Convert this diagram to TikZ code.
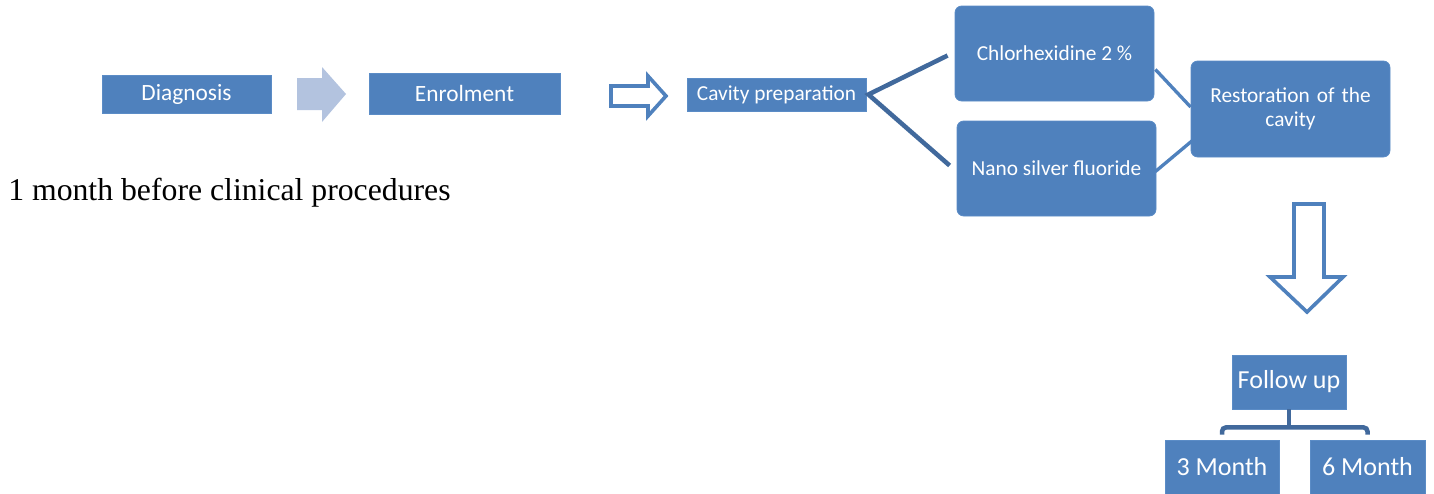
\documentclass[tikz,border=0pt]{standalone}
\usepackage{fontspec}
\setmainfont{Liberation Serif}
\newfontfamily\boxfont{Carlito}
\usetikzlibrary{calc}
\definecolor{boxblue}{HTML}{4F81BD}
\definecolor{boxedge}{HTML}{5B8CC6}
\definecolor{lineblue}{HTML}{41699C}
\definecolor{lightarrow}{HTML}{B3C3DF}
\tikzset{
  bx/.style={fill=boxblue, draw=boxedge, line width=0.6pt, text=white, font=\boxfont, inner sep=0pt, align=center},
  rbx/.style={bx, rounded corners=5pt},
  conn/.style={draw=lineblue, line width=3.4pt},
  thinconn/.style={draw=boxblue, line width=2.5pt},
  outarrow/.style={draw=boxblue, fill=white, line width=2.7pt, line join=miter},
}
\begin{document}
\begin{tikzpicture}[x=0.75pt, y=-0.75pt]
\useasboundingbox (0,0) rectangle (1434,493);
% first row
\node[bx, minimum width=169*0.75pt, minimum height=38*0.75pt, font=\boxfont\fontsize{17.5}{20}\selectfont] (diag) at (186.5,94) {Diagnosis};
\fill[lightarrow] (297,78) -- (322,78) -- (322,67) -- (346,94) -- (322,122) -- (322,110) -- (297,110) -- cycle;
\node[bx, minimum width=191*0.75pt, minimum height=41*0.75pt, font=\boxfont\fontsize{17.5}{20}\selectfont] (enrol) at (464.5,93.5) {Enrolment};
\draw[outarrow] (611,86) -- (648,86) -- (648,76) -- (666,96) -- (648,116) -- (648,106) -- (611,106) -- cycle;
\node[bx, minimum width=179*0.75pt, minimum height=33*0.75pt, font=\boxfont\fontsize{16}{19}\selectfont] (cav) at (776.5,94.5) {Cavity preparation};
% middle column
\node[rbx, minimum width=199*0.75pt, minimum height=95*0.75pt, font=\boxfont\fontsize{16}{19}\selectfont] (chl) at (1054.5,53.5) {Chlorhexidine 2 \%};
\node[rbx, minimum width=199*0.75pt, minimum height=95*0.75pt, font=\boxfont\fontsize{16}{19}\selectfont] (nano) at (1056.5,168.5) {Nano silver fluoride};
\node[rbx, minimum width=199*0.75pt, minimum height=96*0.75pt, font=\boxfont\fontsize{16}{18}\selectfont, text width=190*0.75pt] (rest) at (1290.5,109) {Restoration of the\\cavity};
% connectors
\coordinate (fork) at ($(cav.east)+(2,0)$);
\draw[conn] ($(chl.west)+(-7,2)$) -- (fork) -- ($(nano.west)+(-7,-3)$);
\draw[thinconn] ($(chl.east)+(1,16)$) -- ($(rest.west)+(0,-2)$);
\draw[thinconn] ($(nano.east)+(-1,3)$) -- ($(rest.west)+(12,23)$);
% down arrow
\draw[outarrow] (1294,204) -- (1324,204) -- (1324,277) -- (1343,277) -- (1307,312) -- (1270,277) -- (1294,277) -- cycle;
% follow up
\node[bx, minimum width=114*0.75pt, minimum height=54*0.75pt, font=\boxfont\fontsize{19.5}{22}\selectfont] (fol) at (1289,382) {Follow up};
\node[bx, minimum width=114*0.75pt, minimum height=54*0.75pt, font=\boxfont\fontsize{19.5}{22}\selectfont] (m3) at (1222,467) {3 Month};
\node[bx, minimum width=115*0.75pt, minimum height=54*0.75pt, font=\boxfont\fontsize{19.5}{22}\selectfont] (m6) at (1367.5,467) {6 Month};
\coordinate (bar) at ($(fol.south)+(0,18)$);
\draw[conn, rounded corners=3pt] (fol.south) -- (bar);
\draw[conn, rounded corners=3pt] ($(m3.north)+(0,-5)$) |- (bar) -| ($(m6.north)+(0,-5)$);
% side text
\node[anchor=base west, inner sep=0pt, font=\fontsize{23.8}{27}\selectfont] (note) at (8,200) {1 month before clinical procedures};
\end{tikzpicture}
\end{document}
